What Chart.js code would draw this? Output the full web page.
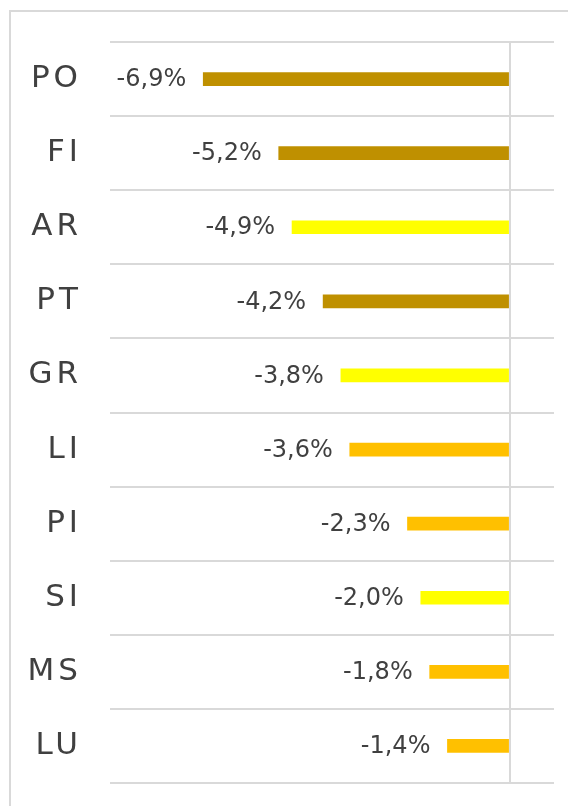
<!DOCTYPE html>
<html>
<head>
<meta charset="utf-8">
<script src="https://cdn.jsdelivr.net/npm/chart.js@4/dist/chart.umd.min.js"></script>
<style>
  html, body { margin: 0; padding: 0; background: #ffffff; overflow: hidden; }
  #wrap { position: relative; width: 568px; height: 806px; overflow: hidden; }
  #frame { position: absolute; left: 9px; top: 10px; width: 700px; height: 900px;
           border-left: 2px solid #d9d9d9; border-top: 2px solid #d9d9d9; box-sizing: border-box; }
  canvas { position: absolute; left: 0; top: 0; }
</style>
</head>
<body>
<div id="wrap">
  <div id="frame"></div>
  <canvas id="c" width="568" height="806"></canvas>
</div>
<script>
const categories = ['PO', 'FI', 'AR', 'PT', 'GR', 'LI', 'PI', 'SI', 'MS', 'LU'];
const values = [-6.9, -5.2, -4.9, -4.2, -3.8, -3.6, -2.3, -2.0, -1.8, -1.4];
const barColors = ['#BF9000', '#BF9000', '#FFFF00', '#BF9000', '#FFFF00',
                   '#FFC000', '#FFC000', '#FFFF00', '#FFC000', '#FFC000'];
const axisMin = -9;
const axisMax = 1;

const labelColor = '#404040';
const gridColor = '#d9d9d9';

const letterSpacingPlugin = {
  id: 'letterSpacing',
  beforeDraw(chart) { chart.ctx.letterSpacing = '4px'; },
  beforeDatasetsDraw(chart) { chart.ctx.letterSpacing = '0px'; }
};

const valueLabels = {
  id: 'valueLabels',
  afterDatasetsDraw(chart) {
    const ctx = chart.ctx;
    const meta = chart.getDatasetMeta(0);
    ctx.save();
    ctx.letterSpacing = '0px';
    ctx.font = '24px "DejaVu Sans"';
    ctx.fillStyle = labelColor;
    ctx.textAlign = 'right';
    ctx.textBaseline = 'middle';
    meta.data.forEach((bar, i) => {
      const v = chart.data.datasets[0].data[i];
      const txt = v.toFixed(1).replace('.', ',') + '%';
      ctx.fillText(txt, Math.min(bar.x, bar.base) - 17, bar.y + 1);
    });
    ctx.restore();
  }
};

new Chart(document.getElementById('c'), {
  type: 'bar',
  data: {
    labels: categories,
    datasets: [{
      data: values,
      backgroundColor: barColors,
      borderWidth: 0,
      barThickness: 13
    }]
  },
  options: {
    indexAxis: 'y',
    responsive: false,
    animation: false,
    layout: { padding: { left: 0, right: 14, top: 42, bottom: 23 } },
    plugins: { legend: { display: false }, tooltip: { enabled: false } },
    scales: {
      x: {
        min: axisMin,
        max: axisMax,
        afterFit(scale) { scale.height = 0; scale.paddingLeft = 0; scale.paddingRight = 0; },
        ticks: { display: false, stepSize: 1 },
        border: { display: false },
        grid: {
          drawTicks: false,
          lineWidth: 2,
          color: (ctx) => (ctx.tick && ctx.tick.value === 0) ? gridColor : 'rgba(0,0,0,0)'
        }
      },
      y: {
        afterFit(scale) { scale.width = 110; scale.paddingTop = 0; scale.paddingBottom = 0; },
        border: { display: false },
        grid: { drawTicks: false, color: gridColor, lineWidth: 2, offset: true },
        ticks: {
          padding: 28,
          color: labelColor,
          font: { family: '"DejaVu Sans"', size: 31 }
        }
      }
    }
  },
  plugins: [letterSpacingPlugin, valueLabels]
});
</script>
</body>
</html>
